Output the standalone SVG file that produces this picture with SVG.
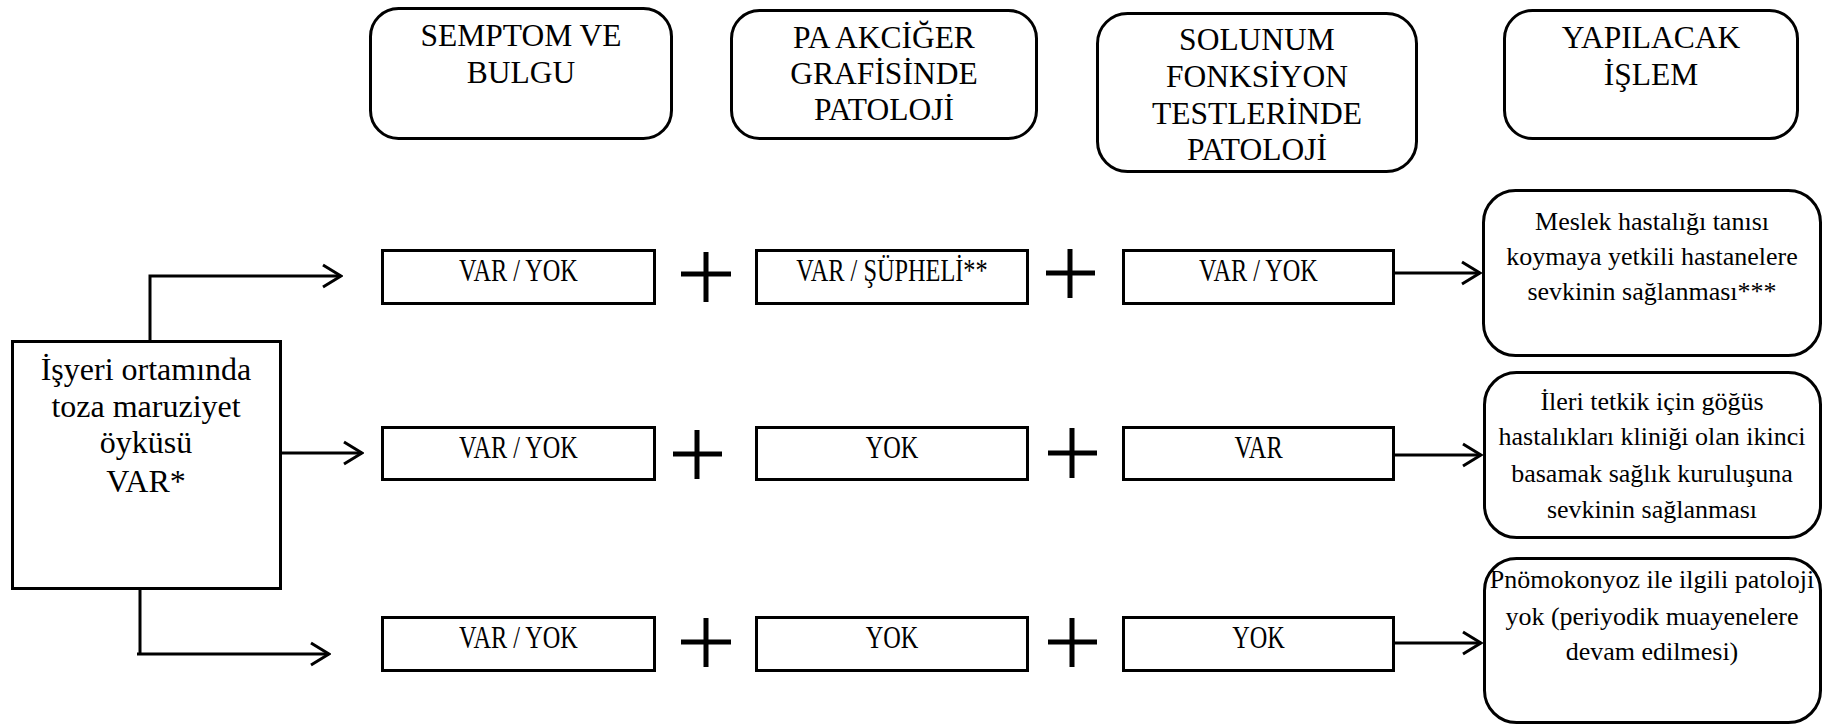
<svg xmlns="http://www.w3.org/2000/svg" width="1823" height="726" viewBox="0 0 1823 726" font-family="Liberation Serif, DejaVu Serif, serif">
<style>
  text { fill: #000; text-anchor: middle; }
  .box { fill: #fff; stroke: #000; stroke-width: 3; }
  .hdr { font-size: 31.5px; }
  .cell { font-size: 32px; }
  .side { font-size: 26px; }
  .src { font-size: 32px; }
  .conn { fill: none; stroke: #000; stroke-width: 3; }
  .plus { fill: none; stroke: #000; stroke-width: 5; }
</style>
<defs>
  <marker id="chev" viewBox="0 0 22 26" refX="20" refY="13" markerWidth="22" markerHeight="26" markerUnits="userSpaceOnUse" orient="auto">
    <path d="M2,2 L20,13 L2,24" fill="none" stroke="#000" stroke-width="3"/>
  </marker>
</defs>

<g id="hdr-semptom">
  <rect class="box" x="370.5" y="8.5" width="301" height="130" rx="28"/>
  <text class="hdr" x="521" y="46">SEMPTOM VE</text>
  <text class="hdr" x="521" y="83">BULGU</text>
</g>
<g id="hdr-pa">
  <rect class="box" x="731.5" y="10.5" width="305" height="128" rx="28"/>
  <text class="hdr" x="884" y="48">PA AKCİĞER</text>
  <text class="hdr" x="884" y="84">GRAFİSİNDE</text>
  <text class="hdr" x="884" y="120">PATOLOJİ</text>
</g>
<g id="hdr-sft">
  <rect class="box" x="1097.5" y="13.5" width="319" height="158" rx="30"/>
  <text class="hdr" x="1257" y="50">SOLUNUM</text>
  <text class="hdr" x="1257" y="87">FONKSİYON</text>
  <text class="hdr" x="1257" y="124">TESTLERİNDE</text>
  <text class="hdr" x="1257" y="160">PATOLOJİ</text>
</g>
<g id="hdr-islem">
  <rect class="box" x="1504.5" y="10.5" width="293" height="128" rx="28"/>
  <text class="hdr" x="1651" y="48">YAPILACAK</text>
  <text class="hdr" x="1651" y="85">İŞLEM</text>
</g>

<g id="source">
  <rect class="box" x="12.5" y="341.5" width="268" height="247"/>
  <text class="src" x="146" y="380">İşyeri ortamında</text>
  <text class="src" x="146" y="417">toza maruziyet</text>
  <text class="src" x="146" y="453">öyküsü</text>
  <text class="src" x="146" y="492">VAR*</text>
</g>

<g id="r1c1">
  <rect class="box" x="382.5" y="250.5" width="272" height="53"/>
  <text class="cell" transform="translate(518.5,281) scale(0.76,1)">VAR / YOK</text>
</g>
<g id="r1c2">
  <rect class="box" x="756.5" y="250.5" width="271" height="53"/>
  <text class="cell" transform="translate(892,281) scale(0.76,1)">VAR / ŞÜPHELİ**</text>
</g>
<g id="r1c3">
  <rect class="box" x="1123.5" y="250.5" width="270" height="53"/>
  <text class="cell" transform="translate(1258.5,281) scale(0.76,1)">VAR / YOK</text>
</g>

<g id="r2c1">
  <rect class="box" x="382.5" y="427.5" width="272" height="52"/>
  <text class="cell" transform="translate(518.5,458) scale(0.76,1)">VAR / YOK</text>
</g>
<g id="r2c2">
  <rect class="box" x="756.5" y="427.5" width="271" height="52"/>
  <text class="cell" transform="translate(892,458) scale(0.76,1)">YOK</text>
</g>
<g id="r2c3">
  <rect class="box" x="1123.5" y="427.5" width="270" height="52"/>
  <text class="cell" transform="translate(1258.5,458) scale(0.76,1)">VAR</text>
</g>

<g id="r3c1">
  <rect class="box" x="382.5" y="617.5" width="272" height="53"/>
  <text class="cell" transform="translate(518.5,648) scale(0.76,1)">VAR / YOK</text>
</g>
<g id="r3c2">
  <rect class="box" x="756.5" y="617.5" width="271" height="53"/>
  <text class="cell" transform="translate(892,648) scale(0.76,1)">YOK</text>
</g>
<g id="r3c3">
  <rect class="box" x="1123.5" y="617.5" width="270" height="53"/>
  <text class="cell" transform="translate(1258.5,648) scale(0.76,1)">YOK</text>
</g>

<g id="res-meslek">
  <rect class="box" x="1483.5" y="190.5" width="337" height="165" rx="32"/>
  <text class="side" x="1652" y="230">Meslek hastalığı tanısı</text>
  <text class="side" x="1652" y="265">koymaya yetkili hastanelere</text>
  <text class="side" x="1652" y="300">sevkinin sağlanması***</text>
</g>
<g id="res-ileri">
  <rect class="box" x="1484.5" y="372.5" width="336" height="165" rx="32"/>
  <text class="side" x="1652" y="410">İleri tetkik için göğüs</text>
  <text class="side" x="1652" y="445">hastalıkları kliniği olan ikinci</text>
  <text class="side" x="1652" y="482">basamak sağlık kuruluşuna</text>
  <text class="side" x="1652" y="518">sevkinin sağlanması</text>
</g>
<g id="res-pnomo">
  <rect class="box" x="1484.5" y="558.5" width="336" height="164" rx="32"/>
  <text class="side" x="1652" y="588">Pnömokonyoz ile ilgili patoloji</text>
  <text class="side" x="1652" y="625">yok (periyodik muayenelere</text>
  <text class="side" x="1652" y="660">devam edilmesi)</text>
</g>

<g id="plus-signs">
  <path class="plus" d="M681,274 H731 M706,252 V302"/>
  <path class="plus" d="M1046,273 H1095 M1070,249 V298"/>
  <path class="plus" d="M673,454 H722 M697,430 V479"/>
  <path class="plus" d="M1048,453 H1097 M1072,428 V478"/>
  <path class="plus" d="M681,642 H731 M706,618 V667"/>
  <path class="plus" d="M1048,642 H1097 M1072,618 V667"/>
</g>

<g id="connectors">
  <path class="conn" d="M150,340 V276 H341" marker-end="url(#chev)"/>
  <path class="conn" d="M282,453 H362" marker-end="url(#chev)"/>
  <path class="conn" d="M140,590 V654 M137,654 H329" marker-end="url(#chev)"/>
  <path class="conn" d="M1395,273 H1480" marker-end="url(#chev)"/>
  <path class="conn" d="M1395,455 H1481" marker-end="url(#chev)"/>
  <path class="conn" d="M1395,643 H1481" marker-end="url(#chev)"/>
</g>
</svg>
